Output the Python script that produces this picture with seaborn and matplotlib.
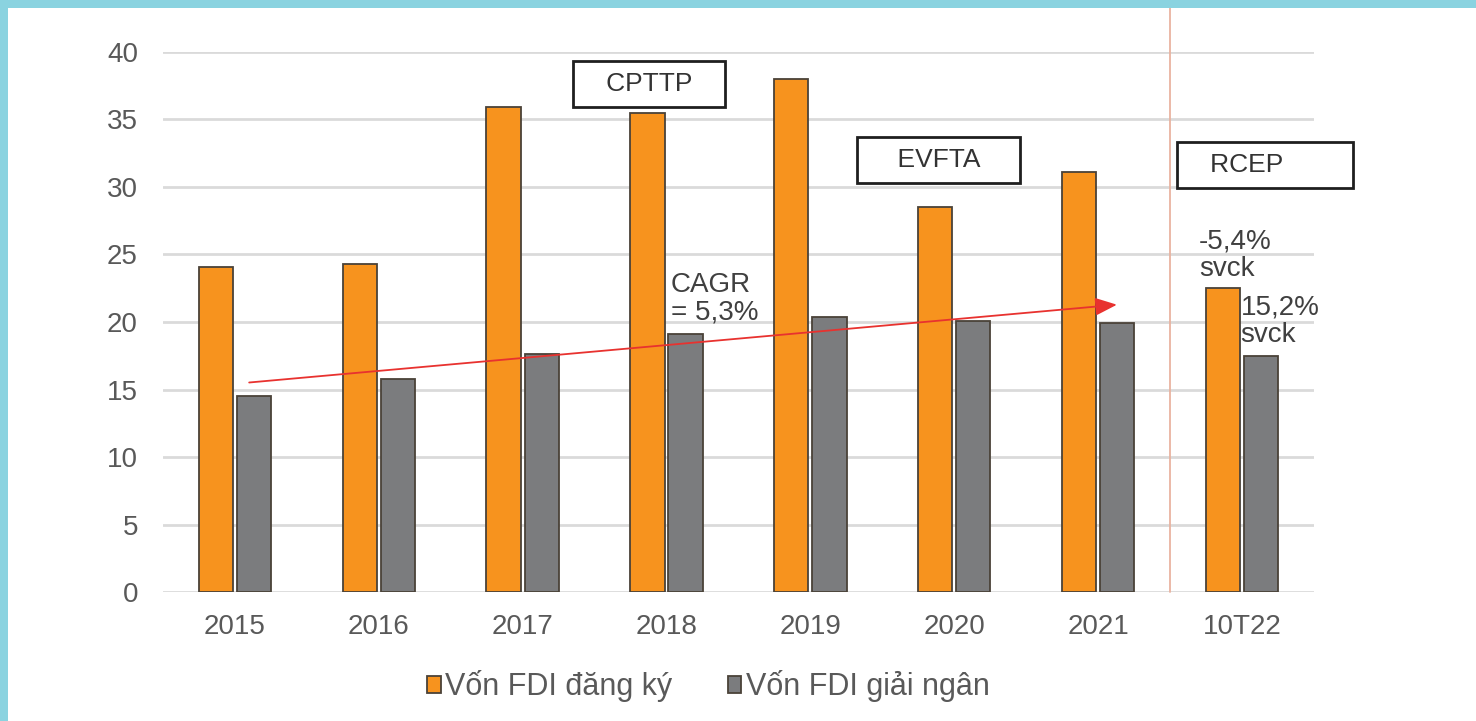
import pandas as pd
import matplotlib.pyplot as plt
import seaborn as sns
from matplotlib.patches import Rectangle

# -------------------------------
# Data
# -------------------------------
years = ['2015', '2016', '2017', '2018', '2019', '2020', '2021', '10T22']
registered = [24.1, 24.3, 35.9, 35.5, 38.0, 28.5, 31.1, 22.5]
disbursed = [14.5, 15.8, 17.6, 19.1, 20.4, 20.1, 19.9, 17.5]
series_names = ['Vốn FDI đăng ký', 'Vốn FDI giải ngân']
y_ticks = [0, 5, 10, 15, 20, 25, 30, 35, 40]

df = pd.DataFrame({
    'year': years * 2,
    'value': registered + disbursed,
    'series': [series_names[0]] * len(years) + [series_names[1]] * len(years),
})

sns.set_theme(style="white")
plt.rcParams['font.family'] = ['Liberation Sans', 'DejaVu Sans']

fig = plt.figure(figsize=(14.76, 7.21), dpi=100)
ax = fig.add_axes([0.1104, 0.1789, 0.7798, 0.749])

sns.barplot(data=df, x='year', y='value', hue='series', order=years,
            hue_order=series_names, palette=['#F7931E', '#7B7C7E'],
            width=0.53, gap=0.1, edgecolor='#4a4238', linewidth=1.3,
            saturation=1, ax=ax, legend=True)

ax.set_ylim(0, 40)
ax.set_xlim(-0.5, 7.5)
ax.set_yticks(y_ticks)
ax.yaxis.grid(True, color='#dadada', linewidth=2)
ax.set_axisbelow(True)
sns.despine(ax=ax, left=True, bottom=True)
ax.set_xlabel('')
ax.set_ylabel('')
ax.tick_params(axis='both', length=0, labelsize=20, colors='#595959')
ax.tick_params(axis='y', pad=18)
ax.tick_params(axis='x', pad=16)

# separator before 10T22
ax.axvline(6.5, ymin=0, ymax=1.081, color='#e9b3a0', linewidth=1.3, clip_on=False)

# trade agreement boxes
box = dict(boxstyle='square,pad=0.42', facecolor='white', edgecolor='#1f1f1f', linewidth=2)
ax.text(2.88, 37.6, '   CPTTP   ', ha='center', va='center', fontsize=19, color='#333333', bbox=box)
ax.text(4.89, 32.0, '    EVFTA    ', ha='center', va='center', fontsize=19, color='#333333', bbox=box)
ax.text(7.16, 31.6, '   RCEP        ', ha='center', va='center', fontsize=19, color='#333333',
        bbox=box, clip_on=False)

# CAGR arrow
ax.annotate('', xy=(6.15, 21.3), xytext=(0.08, 15.5),
            arrowprops=dict(arrowstyle='-|>,head_length=1.1,head_width=0.45',
                            color='#e8322f', linewidth=1.3))
ax.text(3.03, 23.7, 'CAGR\n= 5,3%', ha='left', va='top', fontsize=20,
        color='#404040', linespacing=1.05)

# yoy notes
ax.text(6.70, 26.9, '-5,4%\nsvck', ha='left', va='top', fontsize=20,
        color='#404040', linespacing=1.05)
ax.text(6.99, 22.0, '15,2%\nsvck', ha='left', va='top', fontsize=20,
        color='#404040', linespacing=1.05, clip_on=False)

# legend at the bottom
handles, labels = ax.get_legend_handles_labels()
ax.get_legend().remove()
fig.legend(handles, labels, loc='center', bbox_to_anchor=(0.48, 0.048), ncol=2,
           frameon=False, fontsize=22, handlelength=0.45, handleheight=0.45,
           handletextpad=0.15, columnspacing=1.8, labelcolor='#595959')

# light blue frame on top and left
fig.patches.append(Rectangle((0, 1 - 8 / 721), 1, 8 / 721, transform=fig.transFigure,
                             facecolor='#8AD3E0', edgecolor='none', zorder=0))
fig.patches.append(Rectangle((0, 0), 8 / 1476, 1, transform=fig.transFigure,
                             facecolor='#8AD3E0', edgecolor='none', zorder=0))

plt.savefig('out.png', dpi=100, facecolor='white')
plt.close()
